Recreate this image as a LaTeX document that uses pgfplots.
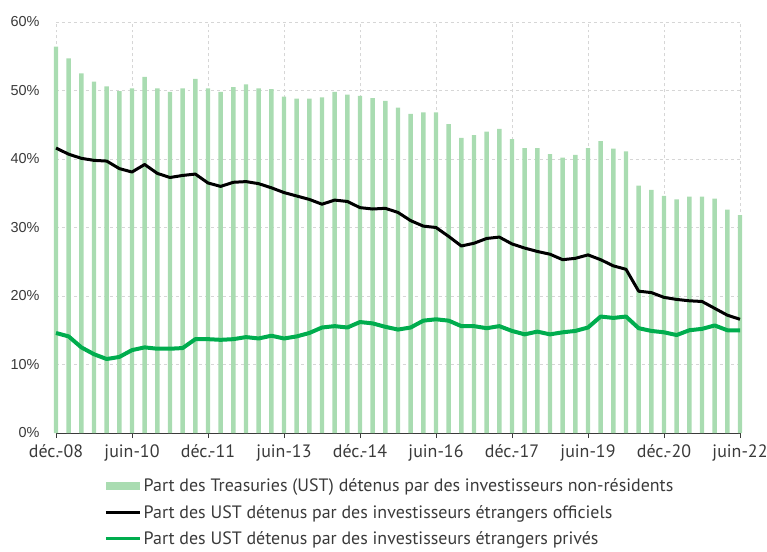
\documentclass[border=0pt]{standalone}
\usepackage{fontspec}
\setmainfont{PT Sans}
\newfontfamily\yfont{Liberation Sans}
\usepackage{pgfplots}
\usepackage{pgfplotstable}
\pgfplotsset{compat=1.18}
\definecolor{barg}{HTML}{A9DCB1}
\definecolor{lineg}{HTML}{00AD4E}
\definecolor{txt}{HTML}{3A3A3A}
\definecolor{gridc}{HTML}{D6D6D6}
\pgfplotstableread{
x bars off priv
0 56.4 41.6 14.6
1 54.7 40.7 14.1
2 52.5 40.1 12.5
3 51.3 39.8 11.5
4 50.6 39.7 10.8
5 49.9 38.6 11.1
6 50.3 38.1 12.1
7 52.0 39.2 12.5
8 50.3 37.9 12.3
9 49.8 37.3 12.3
10 50.3 37.6 12.4
11 51.7 37.8 13.7
12 50.3 36.5 13.7
13 49.8 36.0 13.6
14 50.5 36.6 13.7
15 50.9 36.7 14.0
16 50.3 36.4 13.8
17 50.2 35.8 14.2
18 49.1 35.1 13.8
19 48.8 34.6 14.1
20 48.8 34.1 14.6
21 49.0 33.4 15.4
22 49.8 34.0 15.6
23 49.4 33.8 15.4
24 49.2 32.9 16.2
25 48.9 32.7 16.0
26 48.5 32.8 15.5
27 47.5 32.2 15.1
28 46.6 31.0 15.4
29 46.8 30.2 16.4
30 46.8 30.0 16.6
31 45.1 28.7 16.4
32 43.1 27.3 15.6
33 43.5 27.7 15.6
34 44.0 28.4 15.3
35 44.4 28.6 15.6
36 42.9 27.6 14.9
37 41.6 27.0 14.4
38 41.6 26.5 14.8
39 40.7 26.1 14.4
40 40.2 25.3 14.7
41 40.6 25.5 14.9
42 41.6 26.0 15.4
43 42.6 25.3 17.0
44 41.5 24.4 16.8
45 41.1 23.9 17.0
46 36.1 20.7 15.3
47 35.5 20.5 14.9
48 34.6 19.8 14.7
49 34.1 19.5 14.3
50 34.5 19.3 15.0
51 34.5 19.2 15.2
52 34.2 18.2 15.7
53 32.6 17.2 15.0
54 31.8 16.6 15.0
}\datatable
\begin{document}
\begin{tikzpicture}
\begin{axis}[
  scale only axis,
  width=684bp, height=411bp,
  xmin=0, xmax=54, ymin=0, ymax=60,
  clip=false,
  axis x line*=bottom, axis y line*=left,
  y axis line style={draw=none},
  x axis line style={draw=txt, line width=0.8bp},
  xtick={0,6,...,54},
  xticklabels={déc.-08,juin-10,déc.-11,juin-13,déc.-14,juin-16,déc.-17,juin-19,déc.-20,juin-22},
  ytick={0,10,...,60},
  yticklabels={0\%,10\%,20\%,30\%,40\%,50\%,60\%},
  tick align=outside,
  major x tick style={draw=txt, line width=0.8bp},
  major tick length=5bp,
  major y tick style={draw=none},
  xticklabel style={font=\fontsize{18}{21}\selectfont, text=txt, yshift=-3bp},
  yticklabel style={font=\yfont\fontsize{14.5}{17}\selectfont, text=txt, xshift=-8bp},
  grid=major,
  major grid style={dashed, draw=gridc, line width=0.6bp},
  legend style={at={(0.0702,-0.106)}, anchor=north west, draw=none, fill=none,
    font=\fontsize{18}{21}\selectfont, text=txt, row sep=8bp,
    inner sep=0pt, cells={anchor=west}},
  legend cell align=left,
]
\addplot[ybar, bar width=4.4bp, bar shift=0pt, fill=barg, draw=none,
  legend image code/.code={\fill[barg] (0bp,-4bp) rectangle (34bp,4bp);}]
  table[x=x, y=bars] {\datatable};
\addlegendentry{Part des Treasuries (UST) détenus par des investisseurs non-résidents}
\addplot[black, line width=3bp, line join=round,
  legend image code/.code={\draw[black, line width=3bp] (0bp,0bp) -- (34bp,0bp);}]
  table[x=x, y=off] {\datatable};
\addlegendentry{Part des UST détenus par des investisseurs étrangers officiels}
\addplot[lineg, line width=4bp, line join=round,
  legend image code/.code={\draw[lineg, line width=3.5bp] (0bp,0bp) -- (34bp,0bp);}]
  table[x=x, y=priv] {\datatable};
\addlegendentry{Part des UST détenus par des investisseurs étrangers privés}
\end{axis}
\pgfresetboundingbox
\path (-56bp,-119bp) rectangle (711bp,433bp);
\end{tikzpicture}
\end{document}
